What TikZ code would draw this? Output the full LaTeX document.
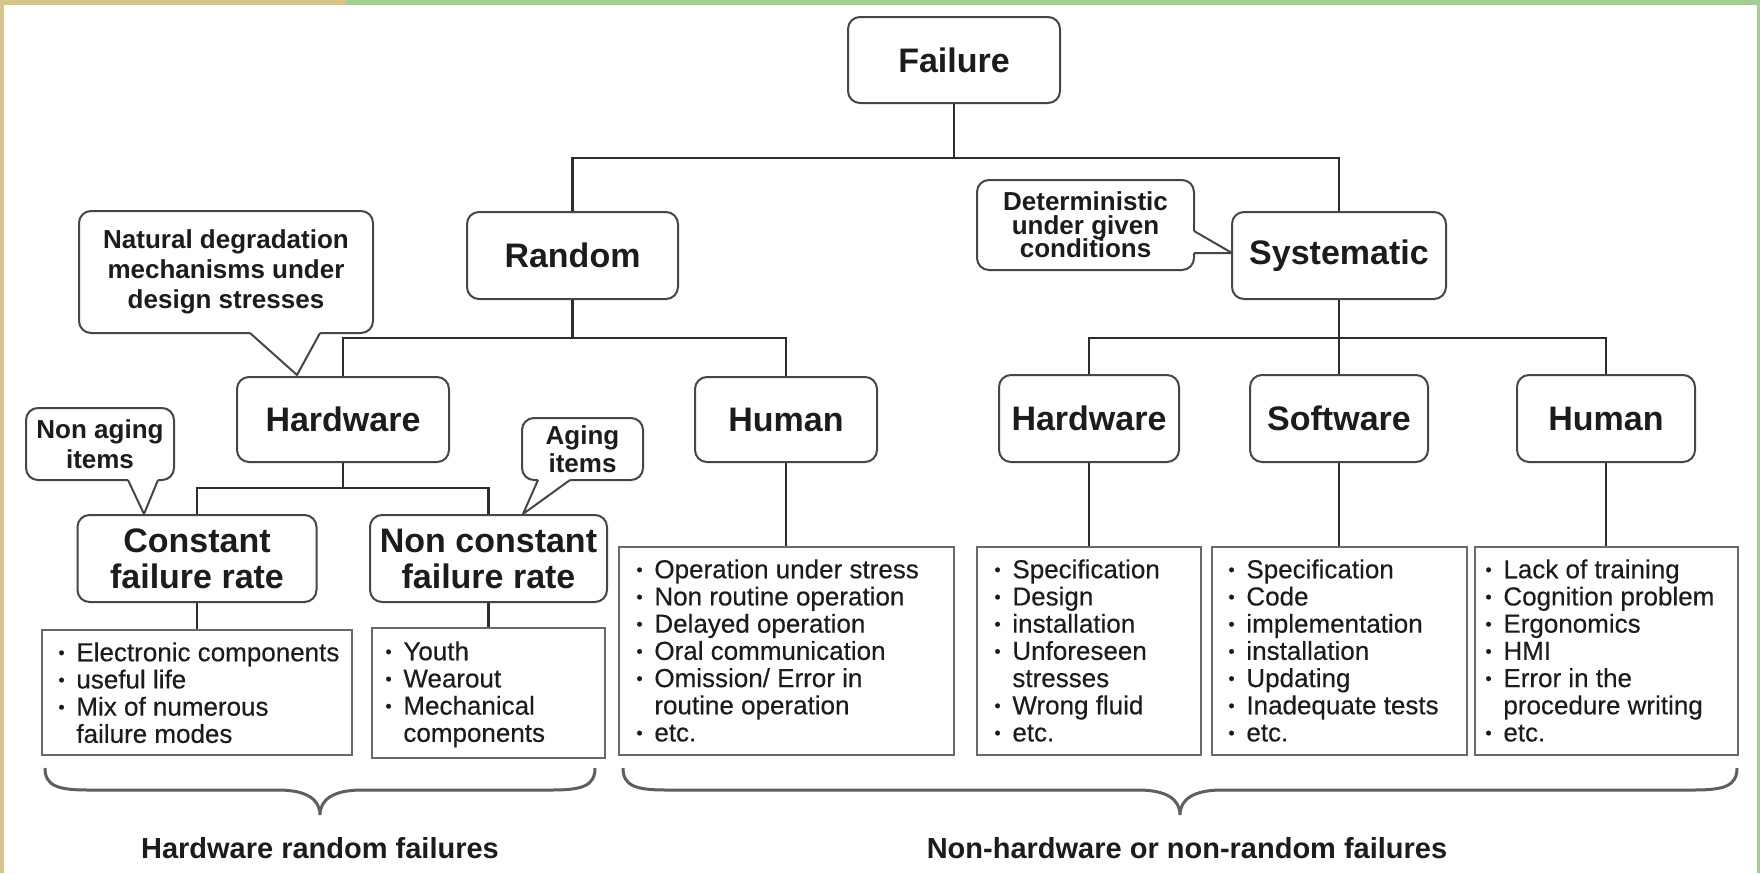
\documentclass[tikz,border=0pt]{standalone}
\usepackage{fontspec}
\setmainfont{Liberation Sans}
% slightly heavier face for the item lists
\newfontfamily\listfont{Liberation Sans}[BoldFont={Liberation Sans}, BoldFeatures={FakeBold=0.35}]

\definecolor{boxline}{RGB}{70,70,70}
\definecolor{linkcol}{RGB}{45,45,45}
\definecolor{listline}{RGB}{105,105,105}
\definecolor{textcol}{RGB}{28,28,28}
\definecolor{bracecol}{RGB}{95,95,95}
\definecolor{edgebeige}{RGB}{214,196,140}
\definecolor{edgegreen}{RGB}{165,204,148}

% let the baseline skip alone set the spacing of stacked lines
\setlength{\lineskiplimit}{-20pt}

% bullet and hanging indent for the item lists
\newcommand{\bitem}{\makebox[9pt][l]{\raisebox{1.2pt}{\fontsize{9}{9}\selectfont\textbullet}}}
\newcommand{\citem}{\hspace*{9pt}}

\begin{document}
\begin{tikzpicture}[x=0.5pt,y=-0.5pt,
  sz/.style 2 args={minimum width=#1*0.5pt, minimum height=#2*0.5pt},
  title/.style={draw=boxline, line width=1pt, rounded corners=6pt, fill=white,
    text=textcol, font=\fontsize{17}{18}\selectfont\bfseries, align=center, inner sep=0pt},
  note/.style={draw=boxline, line width=1pt, rounded corners=6pt, fill=white,
    text=textcol, align=center, inner sep=0pt},
  notefont/.style={font={\fontsize{13}{#1}\selectfont\bfseries}},
  listbox/.style={draw=listline, line width=1pt, fill=white, inner sep=0pt},
  listtext/.style={font=\listfont\bfseries\fontsize{13}{13.6}\selectfont, text=textcol,
    align=left, anchor=north west, inner sep=0pt},
  link/.style={draw=linkcol, line width=1.2pt},
  tailline/.style={draw=boxline, line width=1pt, line join=round},
  brace/.style={draw=bracecol, line width=1.5pt},
  caption/.style={font=\fontsize{14.5}{16}\selectfont\bfseries, text=textcol, inner sep=0pt},
]
\useasboundingbox (0,0) rectangle (1760,873);

% page edge and white sheet
\fill[edgebeige] (0,0) rectangle (1760,873);
\fill[edgegreen] (346,0) rectangle (1760,6);
\fill[edgegreen] (1755,0) rectangle (1760,873);
\fill[white] (4,5) rectangle (1757,873);

% ---- tree nodes ----
\node[title, sz={212}{86}] (failure) at (954,60) {Failure};
\node[title, sz={211}{87}] (random) at (572.5,255.5) {Random};
\node[title, sz={214}{87}] (system) at (1339,255.5) {Systematic};

\node[title, sz={212}{85}] (hwR)  at (343,419.5) {Hardware};
\node[title, sz={182}{85}] (humR) at (786,419.5) {Human};
\node[title, sz={180}{87}] (hwS)  at (1089,418.5) {Hardware};
\node[title, sz={178}{87}] (sw)   at (1339,418.5) {Software};
\node[title, sz={178}{87}] (humS) at (1606,418.5) {Human};

\node[title, sz={239}{87}] (const)  at (197,558.5) {Constant\\failure rate};
\node[title, sz={237}{87}] (nconst) at (488.5,558.5) {Non constant\\failure rate};

% ---- item lists ----
\node[listbox, sz={310}{125}] (lC)    at (197,692.5) {};
\node[listbox, sz={233}{130}] (lNC)   at (488.5,693) {};
\node[listbox, sz={335}{208}] (lHumR) at (786,651) {};
\node[listbox, sz={224}{208}] (lHwS)  at (1089,651) {};
\node[listbox, sz={255}{208}] (lSw)   at (1339,651) {};
\node[listbox, sz={263}{208}] (lHumS) at (1606,651) {};

\node[listtext] (tC) at (58,642) {\bitem Electronic components\\\bitem useful life\\\bitem Mix of numerous\\\citem failure modes};
\node[listtext] (tNC) at (385,641) {\bitem Youth\\\bitem Wearout\\\bitem Mechanical\\\citem components};
\node[listtext] (tHumR) at (636,559) {\bitem Operation under stress\\\bitem Non routine operation\\\bitem Delayed operation\\\bitem Oral communication\\\bitem Omission/ Error in\\\citem routine operation\\\bitem etc.};
\node[listtext] (tHwS) at (994,559) {\bitem Specification\\\bitem Design\\\bitem installation\\\bitem Unforeseen\\\citem stresses\\\bitem Wrong fluid\\\bitem etc.};
\node[listtext] (tSw) at (1228,559) {\bitem Specification\\\bitem Code\\\bitem implementation\\\bitem installation\\\bitem Updating\\\bitem Inadequate tests\\\bitem etc.};
\node[listtext] (tHumS) at (1485,559) {\bitem Lack of training\\\bitem Cognition problem\\\bitem Ergonomics\\\bitem HMI\\\bitem Error in the\\\citem procedure writing\\\bitem etc.};

% ---- connectors ----
\path (failure.south) ++(0,54) coordinate (bus1);
\draw[link] (failure.south) -- (bus1);
\draw[link] (random.north) |- (bus1) -| (system.north);

\path (random.south) ++(0,38) coordinate (bus2);
\draw[link] (random.south) -- (bus2);
\draw[link] (hwR.north) |- (bus2) -| (humR.north);

\path (system.south) ++(0,38) coordinate (bus3);
\draw[link] (system.south) -- (sw.north);
\draw[link] (hwS.north) |- (bus3) -| (humS.north);

\path (hwR.south) ++(0,25) coordinate (bus4);
\draw[link] (hwR.south) -- (bus4);
\draw[link] (const.north) |- (bus4) -| (nconst.north);

\draw[link] (const.south) -- (lC.north);
\draw[link] (nconst.south) -- (lNC.north);
\draw[link] (humR.south) -- (lHumR.north);
\draw[link] (hwS.south) -- (lHwS.north);
\draw[link] (sw.south) -- (lSw.north);
\draw[link] (humS.south) -- (lHumS.north);

% ---- callouts ----
\node[note, notefont=15pt, sz={294}{122}] (natural) at (226,272)
  {Natural degradation\\mechanisms under\\design stresses};
\fill[white] (250,329) -- (250,333) -- (297,375) -- (320,333) -- (320,329) -- cycle;
\draw[tailline] (250,333) -- (297,375) -- (320,333);

\node[note, notefont=15pt, sz={148}{72}] (nonaging) at (100,444) {Non aging\\items};
\fill[white] (128,476) -- (128,480) -- (144,514) -- (158,480) -- (158,476) -- cycle;
\draw[tailline] (128,480) -- (144,514) -- (158,480);

\node[note, notefont=14pt, sz={121}{62}] (aging) at (582.5,449) {Aging\\items};
\fill[white] (538,476) -- (538,480) -- (523,514) -- (570,480) -- (570,476) -- cycle;
\draw[tailline] (538,480) -- (523,514) -- (570,480);

\node[note, notefont=11.8pt, sz={217}{90}] (determ) at (1085.5,225)
  {Deterministic\\under given\\conditions};
\fill[white] (1190,231) -- (1194,231) -- (1232,253) -- (1194,253) -- (1190,253) -- cycle;
\draw[tailline] (1194,231) -- (1232,253) -- (1194,253);

% ---- grouping braces ----
\draw[brace] (45,768) .. controls (45,786) and (58,790) .. (88,790) -- (278,790)
  .. controls (306,790) and (320,799) .. (320,815)
  .. controls (320,799) and (334,790) .. (362,790) -- (552,790)
  .. controls (582,790) and (595,786) .. (595,768);
\draw[brace] (623,768) .. controls (623,786) and (636,790) .. (666,790) -- (1138,790)
  .. controls (1166,790) and (1180,799) .. (1180,815)
  .. controls (1180,799) and (1194,790) .. (1222,790) -- (1694,790)
  .. controls (1724,790) and (1737,786) .. (1737,768);

\node[caption] (capA) at (320,848) {Hardware random failures};
\node[caption] (capB) at (1187,848) {Non-hardware or non-random failures};
\end{tikzpicture}
\end{document}
